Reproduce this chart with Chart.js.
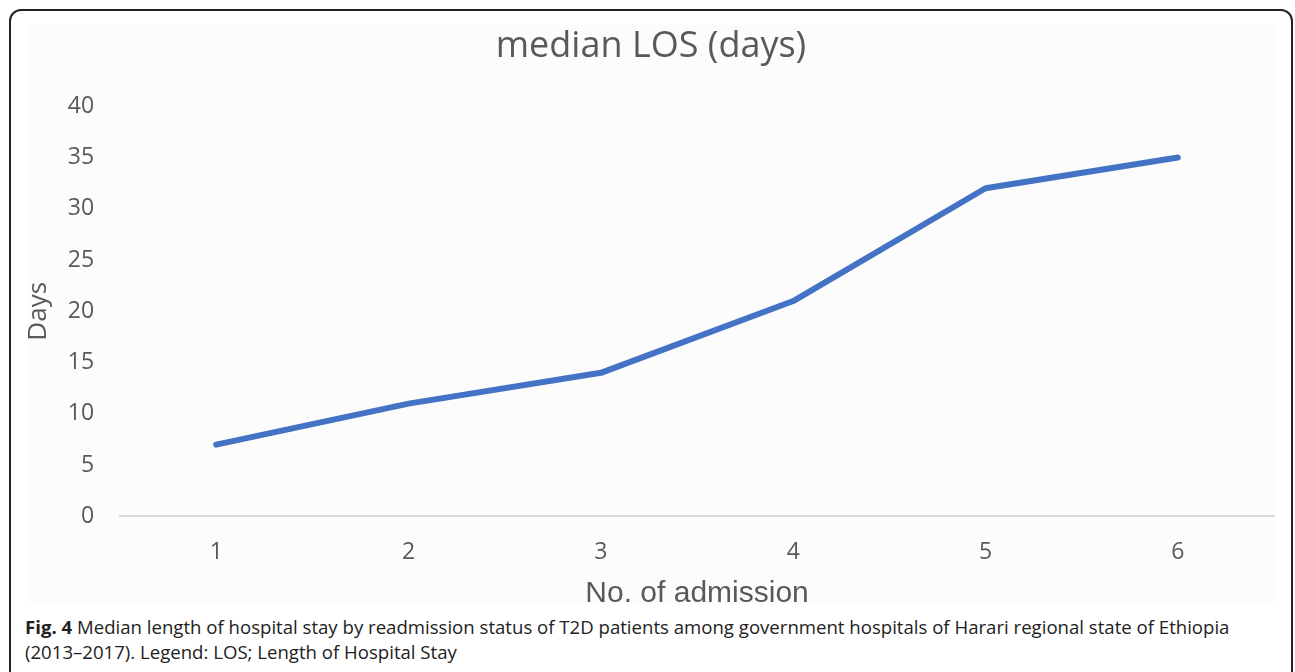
<!DOCTYPE html>
<html>
<head>
<meta charset="utf-8">
<script src="https://cdn.jsdelivr.net/npm/chart.js@4"></script>
<style>
  html, body { margin: 0; padding: 0; background: #fff; overflow: hidden; }
  body { width: 1295px; height: 672px; position: relative; }
  .frame {
    position: absolute; left: 9px; top: 9px; width: 1284px; height: 680px;
    border: 2px solid #222; border-radius: 12px; box-sizing: border-box;
  }
  .plot-bg {
    position: absolute; left: 28px; top: 25px; width: 1247px; height: 579px;
    background: #fcfcfc;
  }
  .chart-box { position: absolute; left: 28px; top: 25px; width: 1247px; height: 585px; }
  .caption {
    position: absolute; left: 25px; top: 614px; width: 1260px;
    font-family: "Open Sans", sans-serif; font-size: 18.6px; line-height: 25px; color: #222;
  }
  .caption b { font-weight: 700; }
</style>
</head>
<body>
<div class="frame"></div>
<div class="plot-bg"></div>
<div class="chart-box"><canvas id="losChart" width="1247" height="585"></canvas></div>
<div class="caption"><b>Fig. 4</b> Median length of hospital stay by readmission status of T2D patients among government hospitals of Harari regional state of Ethiopia<br>(2013–2017). Legend: LOS; Length of Hospital Stay</div>

<script>
// data
const admissions = ['1', '2', '3', '4', '5', '6'];
const medianLos = [7, 11, 14, 21, 32, 35];
const yTicks = [0, 5, 10, 15, 20, 25, 30, 35, 40];

const tickColor = '#595959';

const ctx = document.getElementById('losChart');
new Chart(ctx, {
    type: 'line',
    data: {
        labels: admissions,
        datasets: [{
            label: 'median LOS (days)',
            data: medianLos,
            borderColor: '#4472C4',
            backgroundColor: '#4472C4',
            borderWidth: 6,
            borderCapStyle: 'round',
            borderJoinStyle: 'round',
            pointRadius: 0,
            tension: 0
        }]
    },
    options: {
        responsive: false,
        animation: false,
        layout: { padding: { left: 0, right: 1, top: 0, bottom: 0 } },
        plugins: {
            legend: { display: false },
            tooltip: { enabled: false },
            title: {
                display: true,
                text: 'median LOS (days)',
                color: tickColor,
                font: { family: 'Open Sans', size: 36, weight: 'normal' },
                padding: { top: 0, bottom: 38 }
            }
        },
        scales: {
            x: {
                offset: true,
                grid: { display: false, drawTicks: false },
                border: { display: true, color: '#d9d9d9', width: 2 },
                ticks: {
                    color: tickColor,
                    padding: 22,
                    font: { family: 'Open Sans', size: 23 }
                },
                title: {
                    display: true,
                    text: 'No. of admission',
                    color: tickColor,
                    font: { family: 'Liberation Sans', size: 30, lineHeight: 1.0 },
                    padding: { top: -9, bottom: 1 }
                }
            },
            y: {
                min: 0,
                max: 40,
                afterBuildTicks: function(scale) {
                    scale.ticks = yTicks.map(v => ({ value: v }));
                },
                grid: { display: false, drawTicks: false },
                border: { display: false },
                ticks: {
                    color: tickColor,
                    padding: 26,
                    font: { family: 'Open Sans', size: 23 }
                },
                title: {
                    display: true,
                    text: 'Days',
                    color: tickColor,
                    font: { family: 'Open Sans', size: 26, lineHeight: 0.8 },
                    padding: { top: 0, bottom: -7 }
                }
            }
        }
    }
});
</script>
</body>
</html>
